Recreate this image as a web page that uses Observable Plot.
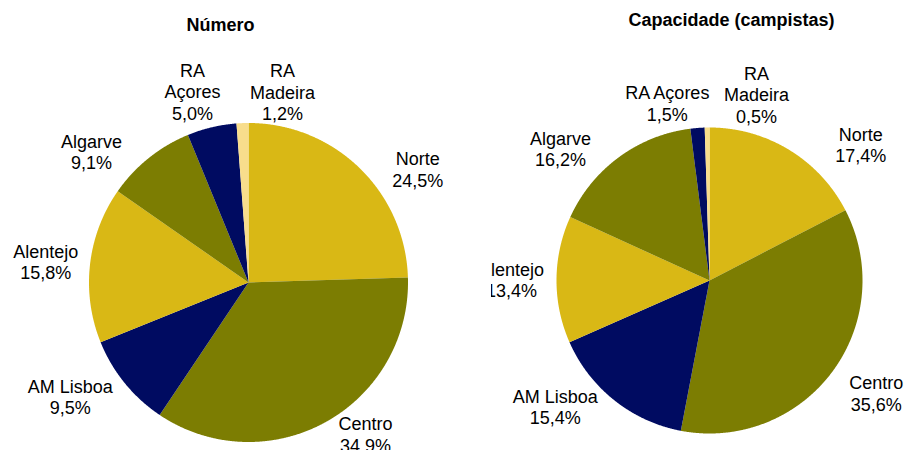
<!DOCTYPE html>
<html><head><meta charset="utf-8">
<script src="https://cdn.jsdelivr.net/npm/d3@7"></script>
<script src="https://cdn.jsdelivr.net/npm/@observablehq/plot@0.6"></script>
<style>
html,body{margin:0;padding:0;background:#fff;}
#wrap{display:flex;width:906px;height:450px;overflow:hidden;}
#wrap svg{overflow:hidden;display:block;}
</style></head><body><div id="wrap"></div>
<script>
// ---- data ----
const regions = ["Norte", "Centro", "AM Lisboa", "Alentejo", "Algarve", "RA Açores", "RA Madeira"];
const numeroPct = [24.5, 34.9, 9.5, 15.8, 9.1, 5.0, 1.2];
const capacidadePct = [17.4, 35.6, 15.4, 13.4, 16.2, 1.5, 0.5];
const numeroLabels = ["Norte", "Centro", "AM Lisboa", "Alentejo", "Algarve", "RA\nAçores", "RA\nMadeira"];
const capacidadeLabels = ["Norte", "Centro", "AM Lisboa", "Alentejo", "Algarve", "RA Açores", "RA\nMadeira"];
const titles = ["Número", "Capacidade (campistas)"];

// ---- style / layout ----
const regionColors = ["#D9B815", "#7C7D02", "#000B61", "#D9B815", "#7C7D02", "#000B61", "#F8DD8C"];
const font = "'Liberation Sans', Arial, sans-serif";
const H = 450;
const panels = [
  {values: numeroPct, labels: numeroLabels, title: titles[0], x0: 0, x1: 491, cx: 248, cy: 282, r: 159.5, rl: 200, tx: 220, ty: 25,
   nudge: [[30,30],[20,-23.5],[-23,-12],[-4,1.6],[-32,25],[-10,3.6],[41.6,9]]},
  {values: capacidadePct, labels: capacidadeLabels, title: titles[1], x0: 491, x1: 906, cx: 709, cy: 280, r: 153, rl: 193, tx: 731, ty: 20,
   nudge: [[51,29],[12,-3],[-34,-25],[-5,0.4],[-34.5,23.4],[-27,15],[50,7]]}
];

const fmt = v => v.toFixed(1).replace(".", ",") + "%";

function build(p) {
  const arcs = d3.pie().sort(null).startAngle(0).endAngle(2 * Math.PI)(p.values);
  const pts = [];
  const labels = [];
  arcs.forEach((a, i) => {
    pts.push({slice: i, region: regions[i], x: p.cx, y: p.cy});
    const n = Math.max(2, Math.ceil((a.endAngle - a.startAngle) / (Math.PI / 720)));
    for (let k = 0; k <= n; k++) {
      const t = a.startAngle + (a.endAngle - a.startAngle) * k / n;
      pts.push({slice: i, region: regions[i], x: p.cx + p.r * Math.sin(t), y: p.cy - p.r * Math.cos(t)});
    }
    const m = (a.startAngle + a.endAngle) / 2;
    labels.push({
      x: p.cx + p.rl * Math.sin(m) + p.nudge[i][0],
      y: p.cy - p.rl * Math.cos(m) + p.nudge[i][1],
      text: p.labels[i] + "\n" + fmt(p.values[i])
    });
  });
  return Plot.plot({
    width: p.x1 - p.x0,
    height: H,
    margin: 0,
    x: {domain: [p.x0, p.x1], range: [0, p.x1 - p.x0], axis: null},
    y: {domain: [0, H], range: [0, H], axis: null},
    color: {domain: regions, range: regionColors},
    style: {fontFamily: font, background: "#fff", overflow: "hidden"},
    marks: [
      Plot.line(pts, {x: "x", y: "y", z: "slice", fill: "region", stroke: "none", curve: "linear-closed"}),
      Plot.text(labels, {x: "x", y: "y", text: "text", fontSize: 18, lineHeight: 1.2, fill: "#000", textAnchor: "middle"}),
      Plot.text([p.title], {x: () => p.tx, y: () => p.ty, text: d => d, fontSize: 18, fontWeight: "bold", fill: "#000", textAnchor: "middle"})
    ]
  });
}

const wrap = document.getElementById("wrap");
panels.forEach(p => wrap.appendChild(build(p)));
</script>
</body></html>
